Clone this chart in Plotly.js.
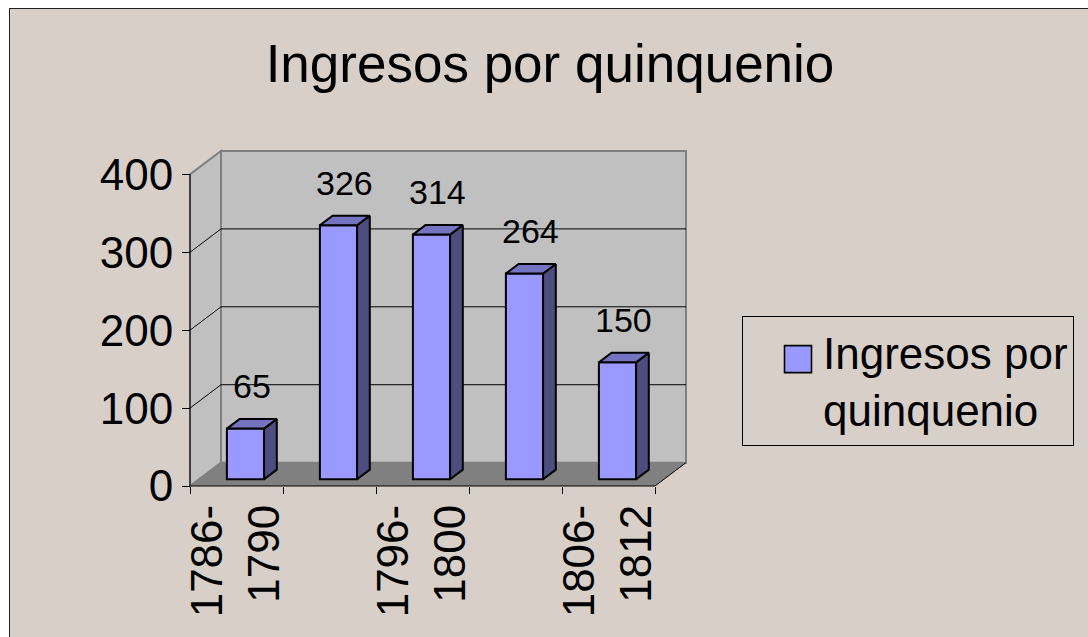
<!DOCTYPE html>
<html>
<head>
<meta charset="utf-8">
<script src="https://cdn.plot.ly/plotly-3.0.1.min.js"></script>
<style>
  html, body { margin: 0; padding: 0; background: #ffffff; }
  #frame { position: absolute; left: 9px; top: 8px; width: 1079px; height: 629px;
           border-left: 1px solid #222; border-top: 1px solid #222; box-sizing: border-box;
           background: #D8D0C8; overflow: hidden; }
  #chart { width: 1078px; height: 628px; }
</style>
</head>
<body>
<div id="frame"><div id="chart"></div></div>
<script>
// ---- data ----
const categories = ["1786-1790", "1791-1795", "1796-1800", "1801-1805", "1806-1812"];
const values = [65, 326, 314, 264, 150];
const seriesName = "Ingresos por quinquenio";
const labelledCategoryIndex = [0, 2, 4];
const yTickValues = [0, 100, 200, 300, 400];
const gridValues = [100, 200, 300];

// ---- 3D projection geometry (in axis units) ----
const DX = 1 / 3;      // full depth offset along x (category units)
const DY = 30;         // full depth offset along y (value units)
const F1 = 0.29;       // bar front plane (fraction of depth)
const F2 = 0.70;       // bar back plane
const HW = 0.2;        // bar half width
const YMAX = 400;
const N = categories.length;

// ---- pixel layout ----
const W = 1078, H = 628;
const PXX = 93, PXY = 0.78, PAD = 6;
const xr0 = -0.5 - PAD / PXX, xr1 = N - 0.5 + DX + PAD / PXX;
const yr0 = -PAD / PXY, yr1 = YMAX + DY + PAD / PXY;
const plotW = (xr1 - xr0) * PXX, plotH = (yr1 - yr0) * PXY;
const mL = 174, mB = 145;
const mR = W - mL - plotW, mT = H - mB - plotH;

const FONT = "Liberation Sans, Arial, sans-serif";
const FRONT = "#9999FF", SIDE = "#4D4D80", TOP = "#7373BF";

// front faces: real bar trace
const xFront = values.map((v, i) => i + F1 * DX);
const barTrace = {
  type: "bar", x: xFront, y: values, base: F1 * DY, width: 2 * HW,
  name: "Ingresos por<br>quinquenio", showlegend: true,
  marker: { color: FRONT, line: { color: "#000", width: 2 } },
  hoverinfo: "skip"
};

// side and top faces from the same values
const sx = [], sy = [], tx = [], ty = [];
values.forEach((v, i) => {
  const xl = i + F1 * DX - HW, xr = i + F1 * DX + HW;
  const ddx = (F2 - F1) * DX;
  const b1 = F1 * DY, b2 = F2 * DY;
  sx.push(xr, xr, xr + ddx, xr + ddx, xr, null);
  sy.push(b1, b1 + v, b2 + v, b2, b1, null);
  tx.push(xl, xr, xr + ddx, xl + ddx, xl, null);
  ty.push(b1 + v, b1 + v, b2 + v, b2 + v, b1 + v, null);
});
const sideTrace = { type: "scatter", mode: "lines", x: sx, y: sy, fill: "toself", fillcolor: SIDE,
  line: { color: "#000", width: 2 }, showlegend: false, hoverinfo: "skip" };
const topTrace = { type: "scatter", mode: "lines", x: tx, y: ty, fill: "toself", fillcolor: TOP,
  line: { color: "#000", width: 2 }, showlegend: false, hoverinfo: "skip" };

// walls, floor, gridlines
const L = -0.5, R = N - 0.5;
const shapes = [];
shapes.push({ type: "rect", xref: "x", yref: "y", x0: L + DX, x1: R + DX, y0: DY, y1: YMAX + DY,
  fillcolor: "#C0C0C0", line: { color: "#808080", width: 2 }, layer: "below" });
shapes.push({ type: "path", xref: "x", yref: "y",
  path: `M${L},0 L${L},${YMAX} L${L + DX},${YMAX + DY} L${L + DX},${DY} Z`,
  fillcolor: "#C0C0C0", line: { color: "#808080", width: 2 }, layer: "below" });
shapes.push({ type: "path", xref: "x", yref: "y",
  path: `M${L},0 L${R},0 L${R + DX},${DY} L${L + DX},${DY} Z`,
  fillcolor: "#808080", line: { width: 0 }, layer: "below" });
gridValues.forEach(g => {
  shapes.push({ type: "line", xref: "x", yref: "y", x0: L, y0: g, x1: L + DX, y1: g + DY,
    line: { color: "#000", width: 1 }, layer: "below" });
  shapes.push({ type: "line", xref: "x", yref: "y", x0: L + DX, y0: g + DY, x1: R + DX, y1: g + DY,
    line: { color: "#000", width: 1 }, layer: "below" });
});
// front axis lines and right floor edge
shapes.push({ type: "line", xref: "x", yref: "y", x0: L, y0: 0, x1: L, y1: YMAX, line: { color: "#000", width: 1 }, layer: "below" });
shapes.push({ type: "line", xref: "x", yref: "y", x0: L, y0: 0, x1: R, y1: 0, line: { color: "#000", width: 1 }, layer: "below" });
shapes.push({ type: "line", xref: "x", yref: "y", x0: R, y0: 0, x1: R + DX, y1: DY, line: { color: "#000", width: 1 }, layer: "below" });

// data labels
const annotations = values.map((v, i) => ({
  x: i + (F1 + F2) / 2 * DX, y: v + F2 * DY, xref: "x", yref: "y",
  text: String(v), showarrow: false, yanchor: "bottom", xanchor: "center", yshift: 12,
  font: { family: FONT, size: 34, color: "#000" }
}));

const layout = {
  width: W, height: H,
  paper_bgcolor: "#D8D0C8", plot_bgcolor: "rgba(0,0,0,0)",
  margin: { l: mL, r: mR, t: mT, b: mB, pad: 0 },
  font: { family: FONT, color: "#000" },
  title: { text: seriesName, font: { family: FONT, size: 53, color: "#000" },
    xref: "container", yref: "container", x: 540 / W, y: 1 - 54 / H, xanchor: "center", yanchor: "middle" },
  xaxis: {
    range: [xr0, xr1], showgrid: false, zeroline: false, showline: false,
    anchor: "free", position: PAD / plotH,
    tickmode: "array", tickvals: labelledCategoryIndex,
    ticktext: labelledCategoryIndex.map(i => categories[i].replace("-", "-<br>")),
    tickangle: -90, ticks: "", ticklabelstandoff: 9,
    tickfont: { family: FONT, size: 44, color: "#000" },
    minor: { tickmode: "array", tickvals: categories.map((c, i) => i - 0.5).concat([N - 0.5]),
      ticks: "outside", ticklen: 7, tickcolor: "#000", tickwidth: 1, showgrid: false },
    fixedrange: true
  },
  yaxis: {
    range: [yr0, yr1], showgrid: false, zeroline: false, showline: false,
    anchor: "free", position: PAD / plotW,
    tickmode: "array", tickvals: yTickValues, ticktext: yTickValues.map(String),
    ticks: "outside", ticklen: 8, tickcolor: "#000", tickwidth: 1,
    tickfont: { family: FONT, size: 44, color: "#000" }, fixedrange: true
  },
  showlegend: true,
  legend: {
    xref: "container", yref: "container", x: 732 / W, y: 1 - 307 / H, xanchor: "left", yanchor: "top",
    bgcolor: "rgba(0,0,0,0)", bordercolor: "#000", borderwidth: 1, itemwidth: 70,
    entrywidth: 330, entrywidthmode: "pixels",
    font: { family: FONT, size: 44, color: "#000" }, valign: "top"
  },
  shapes: shapes, annotations: annotations,
  bargap: 0
};

Plotly.newPlot("chart", [barTrace, sideTrace, topTrace], layout, { staticPlot: true, displayModeBar: false })
  .then(gd => {
    // enlarge the legend swatch to match the reference's large square
    gd.querySelectorAll(".legend .legendpoints path").forEach(p => {
      const t = p.getAttribute("transform") || "";
      p.setAttribute("transform", t + " translate(15,7) scale(2.25)");
      p.style.strokeWidth = "0.7px";
    });
  });
</script>
</body>
</html>
